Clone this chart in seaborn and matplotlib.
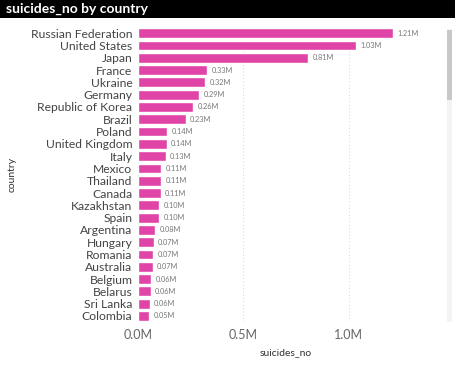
import matplotlib
matplotlib.use("Agg")
import matplotlib.pyplot as plt
import seaborn as sns
import pandas as pd
from matplotlib.patches import Rectangle

# data (total suicides per country)
countries = ["Russian Federation", "United States", "Japan", "France", "Ukraine",
             "Germany", "Republic of Korea", "Brazil", "Poland", "United Kingdom",
             "Italy", "Mexico", "Thailand", "Canada", "Kazakhstan", "Spain",
             "Argentina", "Hungary", "Romania", "Australia", "Belgium", "Belarus",
             "Sri Lanka", "Colombia"]
suicides = [1209742, 1034013, 806902, 329127, 319950, 291262, 261730, 226613,
            139098, 136805, 132060, 111139, 110643, 107561, 101546, 100202,
            82219, 73891, 72777, 70111, 62761, 59892, 55641, 53080]
xticks = [0, 500000, 1000000]
xtick_labels = ["0.0M", "0.5M", "1.0M"]

df = pd.DataFrame({"country": countries, "suicides_no": suicides})

sns.set_style("white")
plt.rcParams["font.family"] = ["Lato", "DejaVu Sans"]

fig = plt.figure(figsize=(4.57, 3.66), dpi=100)
ax = fig.add_axes([0.302, 0.120, 0.646, 0.806])

sns.barplot(data=df, x="suicides_no", y="country", color="#E044A7",
            saturation=1, width=0.8, ax=ax)

ax.set_xlim(0, 1400000)
ax.set_xticks(xticks)
ax.set_xticklabels(xtick_labels, fontsize=9, color="#666666")
ax.tick_params(axis="y", labelsize=8.7, labelcolor="#444444", length=0, pad=4)
ax.tick_params(axis="x", length=0, pad=5)
ax.grid(axis="x", linestyle=(0, (1, 2)), color="#dddddd", linewidth=0.8)
ax.set_axisbelow(True)
for s in ax.spines.values():
    s.set_visible(False)

ax.set_xlabel("suicides_no", fontsize=7.5, color="#333333", labelpad=5)
ax.set_ylabel("country", fontsize=7.5, color="#333333")
ax.yaxis.set_label_coords(-0.41, 0.5)

# data labels
for i, v in enumerate(suicides):
    ax.text(v + 20000, i, f"{v/1e6:.2f}M", va="center", ha="left",
            fontsize=5.3, color="#777777")

# title bar
fig.patches.append(Rectangle((0, 0.951), 0.996, 0.049, transform=fig.transFigure,
                             facecolor="black", edgecolor="none"))
fig.text(0.013, 0.975, "suicides_no by country", color="white", fontsize=10,
         fontweight="bold", va="center", ha="left")

# scrollbar
fig.patches.append(Rectangle((0.978, 0.12), 0.012, 0.80, transform=fig.transFigure,
                             facecolor="#f3f3f3", edgecolor="none"))
fig.patches.append(Rectangle((0.978, 0.727), 0.012, 0.19, transform=fig.transFigure,
                             facecolor="#c8c8c8", edgecolor="none"))

fig.savefig("out.png", dpi=100)
